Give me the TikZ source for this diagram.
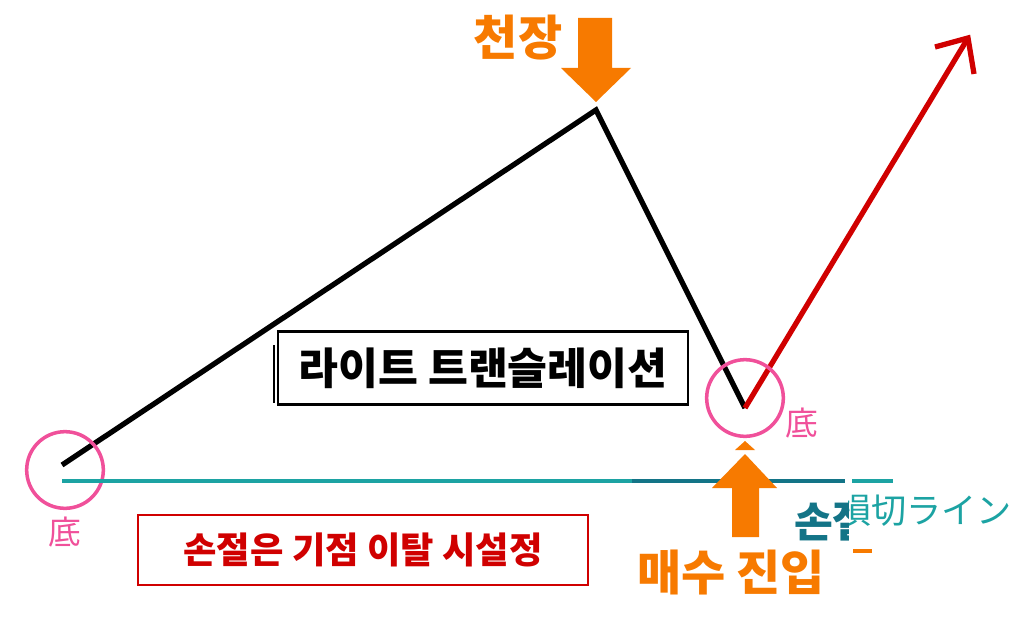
\documentclass[tikz,border=0pt]{standalone}
\usepackage{fontspec}
\newfontfamily\kr{Noto Sans CJK KR}
\newfontfamily\jp{Noto Sans CJK JP}
\usetikzlibrary{positioning}
\definecolor{orng}{HTML}{F77A00}
\definecolor{pnk}{HTML}{F0509A}
\definecolor{teal1}{HTML}{1CA3A3}
\definecolor{teal2}{HTML}{137487}
\definecolor{rd}{HTML}{D00000}
\tikzset{
  bigtxt/.style={font=\kr\bfseries\fontsize{41}{41}\selectfont},
  bottom/.style={circle, draw=pnk, line width=3pt, minimum size=2.3cm, inner sep=0pt},
  bottomlbl/.style={text=pnk, font=\jp\fontsize{28}{28}\selectfont},
  fatarrow/.style={fill=orng, draw=none}
}
\begin{document}
\begin{tikzpicture}[x=0.03cm, y=-0.03cm]
\useasboundingbox (0,0) rectangle (1024,621);
% price path
\coordinate (start) at (62,465);
\coordinate (top) at (596,110);
\coordinate (low) at (745,408);
\coordinate (goal) at (968,38);
\draw[line width=4.5pt] (start) -- (top) -- (low);
\draw[rd, line width=4.5pt] (low) -- (goal);
\draw[rd, line width=4.5pt] (935,47) -- (968,38) -- (974,74);
% bottoms
\node[bottom] (b1) at (65,470) {};
\node[bottom] (b2) at (745,398) {};
\node[bottomlbl] (l1) at (65,532) {底};
\node[bottomlbl] (l2) at (802,423) {底};
% stop line
\draw[teal1, line width=4pt] (62,481) -- (632,481);
\draw[teal2, line width=4pt] (632,481) -- (845,481);
\draw[teal1, line width=4pt] (852,481) -- (893,481);
\begin{scope}
  \clip (848,490) rectangle (1024,540);
  \node[text=teal1, font=\jp\fontsize{30}{30}\selectfont, anchor=west] (sl) at (832,510) {損切ライン};
\end{scope}
\begin{scope}
  \clip (780,490) rectangle (848,550);
  \node[text=teal2, font=\kr\bfseries\fontsize{36}{36}\selectfont, anchor=west] (sk) at (790,522) {손절};
\end{scope}
\draw[orng, line width=3pt] (853,551) -- (872,551);
% boxes
\node[draw, line width=2pt, font=\kr\bfseries\fontsize{37}{37}\selectfont, minimum width=12.3cm, minimum height=2.2cm] (title) at (483,368) {라이트 트랜슬레이션};
\draw[line width=1pt] (274,345) -- (274,403);
\node[draw=rd, line width=1.5pt, text=rd, font=\kr\bfseries\fontsize{31}{31}\selectfont, minimum width=13.5cm, minimum height=2.1cm] (stop) at (363,550) {손절은 기점 이탈 시설정};
% top arrow
\fill[fatarrow] (578,18) -- (612,18) -- (612,68) -- (631,68) -- (596,102) -- (561,68) -- (578,68) -- cycle;
\node[bigtxt, text=orng] (ceil) at (518,38) {천장};
% entry arrow
\fill[fatarrow] (732,537) -- (759,537) -- (759,488) -- (777,488) -- (745,454) -- (712,488) -- (732,488) -- cycle;
\fill[fatarrow] (735,450) -- (755,450) -- (745,441) -- cycle;
\node[bigtxt, text=orng] (buy) at (731,573) {매수 진입};
\end{tikzpicture}
\end{document}
